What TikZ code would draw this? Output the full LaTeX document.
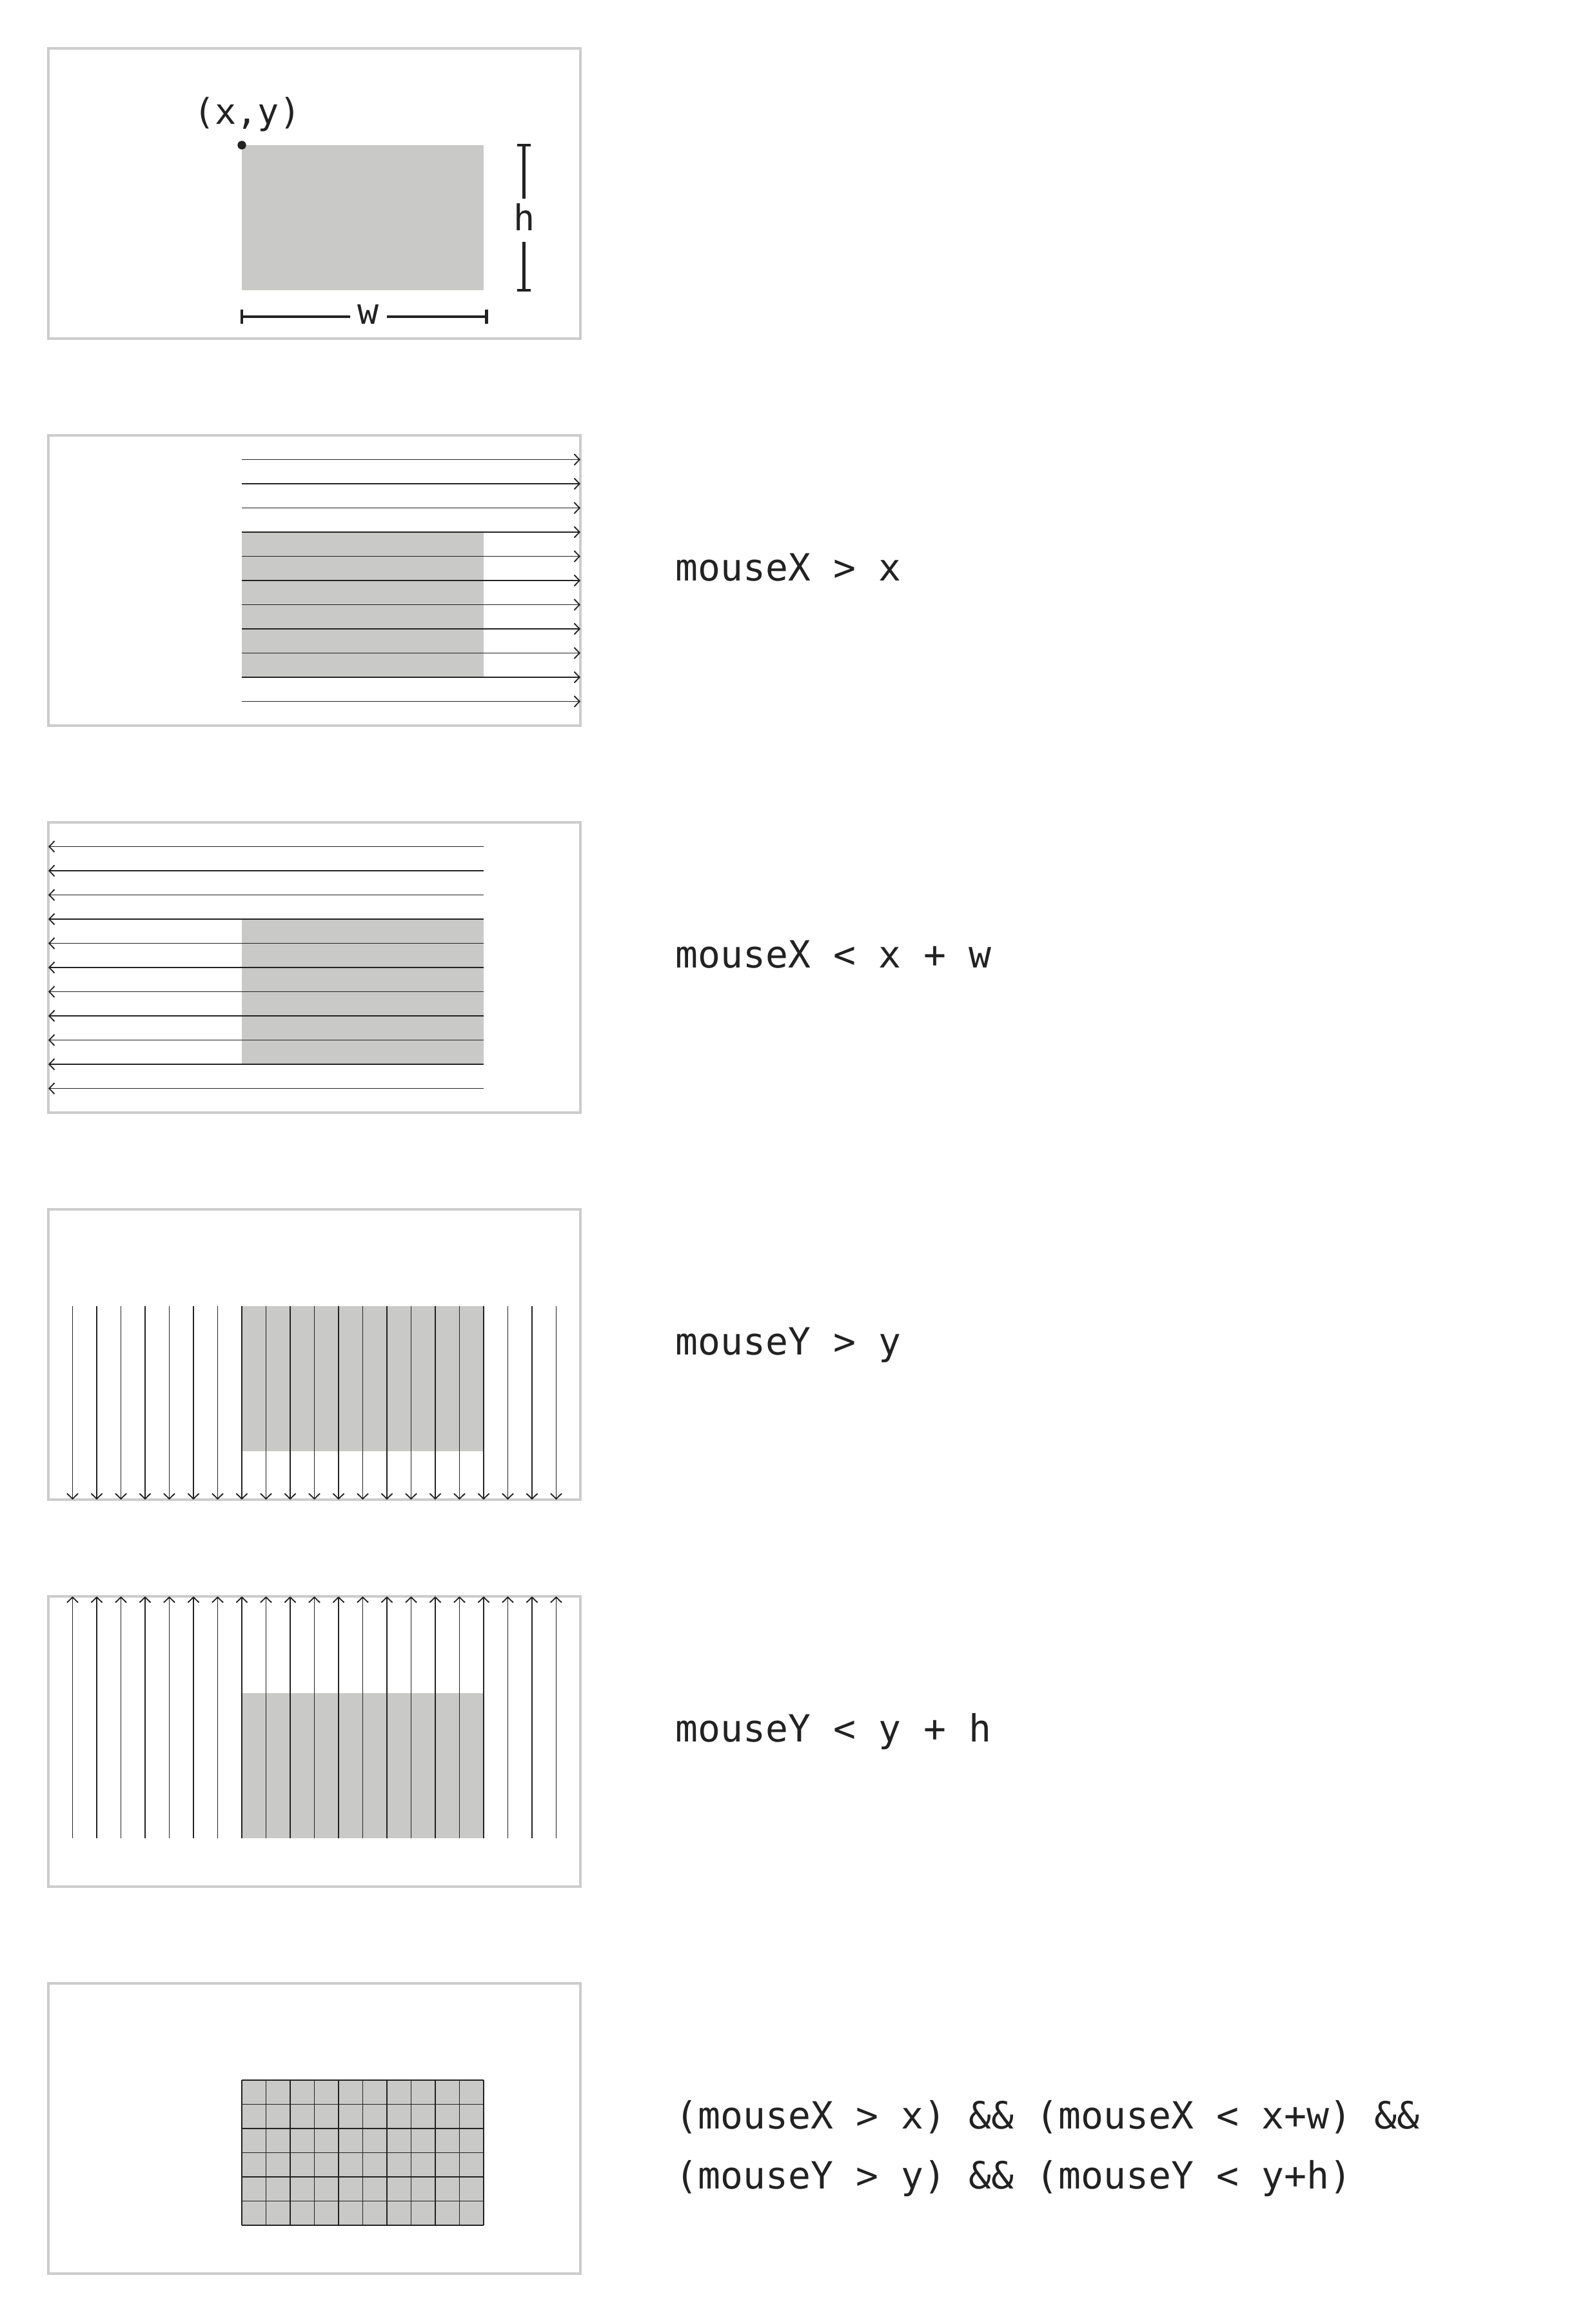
\documentclass[tikz,border=0pt]{standalone}
\usepackage{fontspec}
\newfontfamily\codefont{DejaVu Sans Mono}
\usetikzlibrary{arrows.meta}
\definecolor{frame}{HTML}{CCCCCC}
\definecolor{fillg}{HTML}{C9C9C8}
\definecolor{ink}{HTML}{222222}
\begin{document}
\begin{tikzpicture}[x=16.3333pt,y=-16.3333pt,
  panel/.style={draw=frame,line width=1.5pt},
  target/.style={fill=fillg},
  ray/.style={draw=ink,line width=0.8pt,-{Straight Barb[length=3.6pt,width=7.5pt]}},
  code/.style={font=\codefont\fontsize{25.3}{30}\selectfont,text=ink,anchor=base west,inner sep=0pt},
  lbl/.style={font=\codefont\fontsize{24}{28}\selectfont,text=ink,anchor=base,inner sep=0pt},
  dim/.style={draw=ink,line width=1.9pt},
  gridline/.style={draw=ink,line width=0.8pt}]
\useasboundingbox (0,0) rectangle (66,96);

% ---------- panel 1 ----------
\draw[panel] (2,2) rectangle (24,14);
\fill[target] (10,6) rectangle (20,12);
\fill[ink] (10,6) circle (2.9pt);
\node[lbl] (xy) at (10.22,5.14) {(x,y)};
% h dimension
\coordinate (ht) at (21.67,6);
\coordinate (hb) at (21.67,12);
\coordinate (hg1) at (21.67,8.2);
\coordinate (hg2) at (21.67,10.0);
\draw[dim] (ht) -- (hg1);
\draw[dim] (hg2) -- (hb);
\draw[dim] ([xshift=-4.5pt]ht) -- ([xshift=4.5pt]ht);
\draw[dim] ([xshift=-4.5pt]hb) -- ([xshift=4.5pt]hb);
\node[lbl] (hl) at (21.67,9.52) {h};
% w dimension
\coordinate (wl) at (10.0,13.1);
\coordinate (wr) at (20.12,13.1);
\coordinate (wg1) at (14.47,13.1);
\coordinate (wg2) at (16.0,13.1);
\draw[dim] (wl) -- (wg1);
\draw[dim] (wg2) -- (wr);
\draw[dim] ([yshift=-4.7pt]wl) -- ([yshift=4.7pt]wl);
\draw[dim] ([yshift=-4.7pt]wr) -- ([yshift=4.7pt]wr);
\node[lbl] (wlab) at (15.24,13.41) {w};

% ---------- panel 2 ----------
\draw[panel] (2,18) rectangle (24,30);
\fill[target] (10,22) rectangle (20,28);
\foreach \i in {1,...,11}{
  \draw[ray] (10,18+\i) -- (24,18+\i);
}
\node[code] (c1) at (27.92,24) {mouseX > x};

% ---------- panel 3 ----------
\draw[panel] (2,34) rectangle (24,46);
\fill[target] (10,38) rectangle (20,44);
\foreach \i in {1,...,11}{
  \draw[ray] (20,34+\i) -- (2,34+\i);
}
\node[code] (c2) at (27.92,40) {mouseX < x + w};

% ---------- panel 4 ----------
\draw[panel] (2,50) rectangle (24,62);
\fill[target] (10,54) rectangle (20,60);
\foreach \i in {1,...,21}{
  \draw[ray] (2+\i,54) -- (2+\i,62);
}
\node[code] (c3) at (27.92,56) {mouseY > y};

% ---------- panel 5 ----------
\draw[panel] (2,66) rectangle (24,78);
\fill[target] (10,70) rectangle (20,76);
\foreach \i in {1,...,21}{
  \draw[ray] (2+\i,76) -- (2+\i,66);
}
\node[code] (c4) at (27.92,72) {mouseY < y + h};

% ---------- panel 6 ----------
\draw[panel] (2,82) rectangle (24,94);
\fill[target] (10,86) rectangle (20,92);
\foreach \i in {0,...,10}{
  \draw[gridline] (10+\i,86) -- (10+\i,92);
}
\foreach \j in {0,...,6}{
  \draw[gridline] (10,86+\j) -- (20,86+\j);
}
\node[code] (c5) at (27.92,88) {(mouseX > x) \&\& (mouseX < x+w) \&\&};
\node[code] (c6) at (27.92,90.48) {(mouseY > y) \&\& (mouseY < y+h)};
\end{tikzpicture}
\end{document}
